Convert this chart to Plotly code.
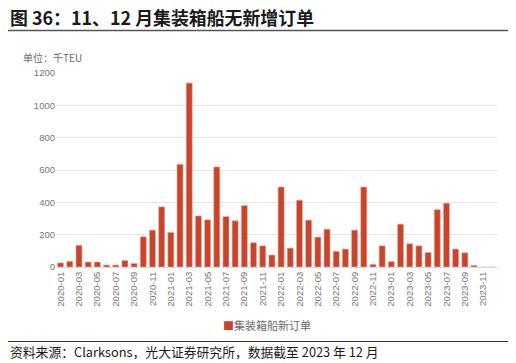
import plotly.graph_objects as go

months = [f"{y}-{m:02d}" for y in range(2020, 2024) for m in range(1, 13)]
values = [25, 35, 134, 31, 31, 12, 12, 40, 22, 187, 228, 372,
          214, 635, 1138, 316, 292, 619, 312, 286, 380, 150, 131, 74,
          495, 117, 413, 290, 185, 234, 97, 111, 228, 495, 16, 131,
          33, 265, 144, 131, 90, 355, 395, 111, 88, 10, 0, 0]
tick_labels = months[::2]
y_ticks = [0, 200, 400, 600, 800, 1000, 1200]
series_name = "集装箱船新订单"
BAR_COLOR = "#C8442A"

FONT = "Noto Sans CJK SC"
TICKFONT = dict(family="Liberation Sans, Arial, sans-serif", size=9.5, color="#767676")
# page body has an 8px margin; screen = figure + 8
W, H = 508, 355
L, R, T, B = 48, 19, 65, 96
PW, PH = W - L - R, H - T - B

def px(sx):
    return (sx - 8 - L) / PW

def py(sy):
    return (H - B - (sy - 8)) / PH

fig = go.Figure()
fig.add_trace(go.Bar(
    x=months, y=values, name=series_name,
    marker=dict(color=BAR_COLOR, line=dict(color="#E8B0A4", width=0.6)),
    width=0.66,
))
fig.update_layout(
    width=W, height=H,
    margin=dict(l=L, r=R, t=T, b=B),
    paper_bgcolor="white", plot_bgcolor="white",
    font=dict(family=FONT, color="#595959", size=10),
    showlegend=False,
)
fig.update_xaxes(
    type="category", tickvals=tick_labels, ticktext=tick_labels, tickangle=-90,
    showgrid=False, showline=True, linecolor="#D9D9D9", linewidth=1,
    ticks="", tickfont=TICKFONT, range=[-0.5, 47.5],
)
fig.update_yaxes(
    range=[0, 1200], tickvals=y_ticks, showgrid=True, gridcolor="#E6E6E6", gridwidth=1,
    zeroline=False, showline=False, ticks="", tickfont=TICKFONT,
)
fig.add_annotation(text="<b>图 36：11、12 月集装箱船无新增订单</b>", xref="paper", yref="paper",
                   x=px(8), y=py(17), xanchor="left", yanchor="middle", showarrow=False,
                   font=dict(size=17.9, color="#1a1a1a", family=FONT))
fig.add_annotation(text="单位：千TEU", xref="paper", yref="paper", x=px(21), y=py(57),
                   xanchor="left", yanchor="middle", showarrow=False,
                   font=dict(size=10, color="#6a6a6a", family=FONT))
fig.add_annotation(text=f'<span style="color:{BAR_COLOR}">■</span>{series_name}',
                   xref="paper", yref="paper", x=px(221), y=py(325),
                   xanchor="left", yanchor="middle", showarrow=False,
                   font=dict(size=11, color="#6a6a6a", family=FONT))
fig.add_annotation(text="资料来源：Clarksons，光大证券研究所，数据截至 2023 年 12 月", xref="paper", yref="paper",
                   x=px(8), y=py(351), xanchor="left", yanchor="middle", showarrow=False,
                   font=dict(size=12.8, color="#1a1a1a", family=FONT))
fig.add_shape(type="line", xref="paper", yref="paper", x0=px(8), x1=px(516), y0=py(30.5), y1=py(30.5),
              line=dict(color="#555555", width=1.5))
fig.add_shape(type="line", xref="paper", yref="paper", x0=px(8), x1=px(516), y0=py(341.5), y1=py(341.5),
              line=dict(color="#333333", width=1))
fig.write_html("out.html")
